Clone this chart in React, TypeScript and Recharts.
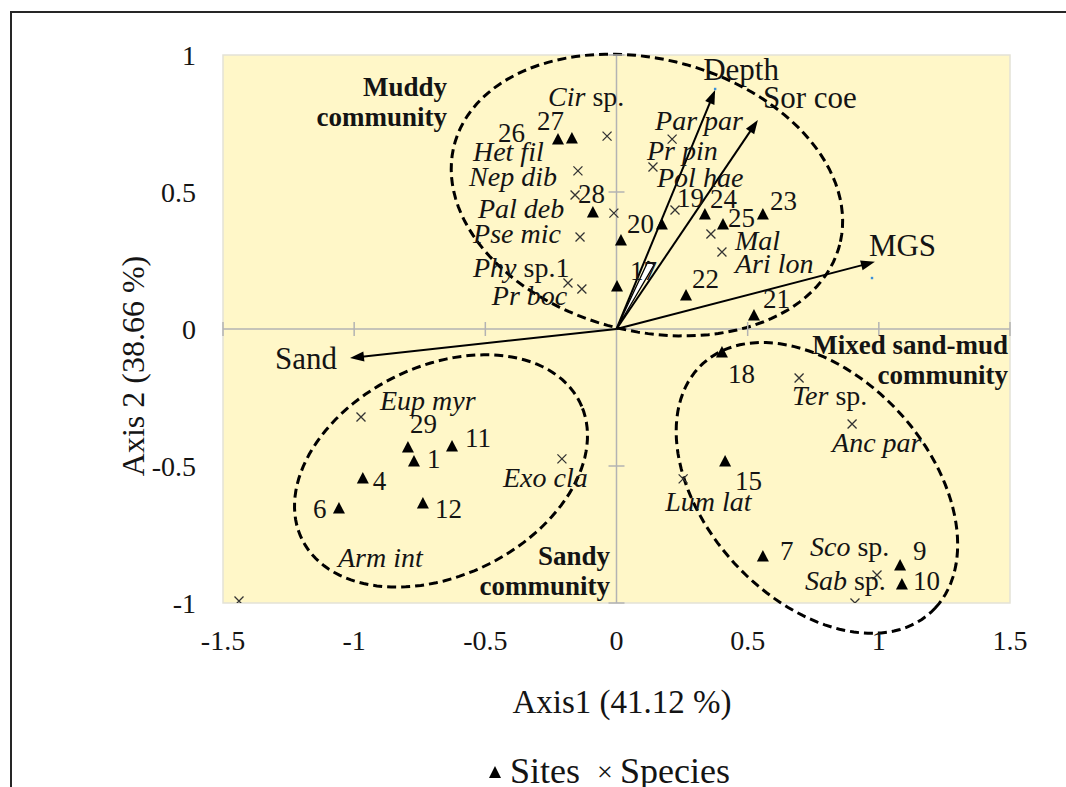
import React from 'react';
import { ScatterChart, Scatter, XAxis, YAxis, ReferenceLine, ReferenceDot, ReferenceArea } from 'recharts';

const FONT = "'Liberation Serif', 'Times New Roman', Times, serif";
const INK = '#141414';

// ---------- data ----------
const xTicks = [-1.5, -1, -0.5, 0, 0.5, 1, 1.5];
const yTicks = [-1, -0.5, 0, 0.5, 1];

const sites = [
  { id: '26', x: -0.223, y: 0.69 },
  { id: '27', x: -0.17, y: 0.693 },
  { id: '28', x: -0.09, y: 0.423 },
  { id: '20', x: 0.017, y: 0.321 },
  { id: '17', x: 0.002, y: 0.153 },
  { id: '19', x: 0.173, y: 0.38 },
  { id: '24', x: 0.337, y: 0.416 },
  { id: '25', x: 0.406, y: 0.38 },
  { id: '23', x: 0.558, y: 0.416 },
  { id: '22', x: 0.265, y: 0.12 },
  { id: '21', x: 0.524, y: 0.047 },
  { id: '18', x: 0.402, y: -0.088 },
  { id: '15', x: 0.414, y: -0.485 },
  { id: '7', x: 0.558, y: -0.832 },
  { id: '9', x: 1.081, y: -0.865 },
  { id: '10', x: 1.088, y: -0.934 },
  { id: '29', x: -0.795, y: -0.434 },
  { id: '1', x: -0.772, y: -0.485 },
  { id: '11', x: -0.627, y: -0.431 },
  { id: '4', x: -0.967, y: -0.547 },
  { id: '6', x: -1.058, y: -0.657 },
  { id: '12', x: -0.738, y: -0.639 },
];

const species = [
  { name: 'Cir sp.', x: -0.036, y: 0.704 },
  { name: 'Het fil', x: -0.147, y: 0.577 },
  { name: 'Nep dib', x: -0.158, y: 0.489 },
  { name: 'Pal deb', x: -0.01, y: 0.423 },
  { name: 'Pse mic', x: -0.139, y: 0.336 },
  { name: 'Phy sp.1', x: -0.185, y: 0.168 },
  { name: 'Pr boc', x: -0.132, y: 0.146 },
  { name: 'Par par', x: 0.212, y: 0.693 },
  { name: 'Pr pin', x: 0.139, y: 0.591 },
  { name: 'Pol hae', x: 0.223, y: 0.434 },
  { name: 'Mal', x: 0.36, y: 0.347 },
  { name: 'Ari lon', x: 0.402, y: 0.281 },
  { name: 'Eup myr', x: -0.974, y: -0.321 },
  { name: 'Exo cla', x: -0.208, y: -0.474 },
  { name: 'Arm int', x: -1.439, y: -0.993 },
  { name: 'Ter sp.', x: 0.696, y: -0.179 },
  { name: 'Anc par', x: 0.898, y: -0.347 },
  { name: 'Lum lat', x: 0.254, y: -0.547 },
  { name: 'Sco sp.', x: 0.993, y: -0.898 },
  { name: 'Sab sp.', x: 0.909, y: -1.0 },
];

const vectors = [
  { name: 'Depth', x: 0.376, y: 0.872 },
  { name: 'Sor coe', x: 0.539, y: 0.763 },
  { name: 'MGS', x: 0.985, y: 0.245 },
  { name: 'Sand', x: -1.016, y: -0.106 },
];
const wedgeTip = { x: 0.132, y: 0.241 };

const envPoints = [
  { name: 'Depth', x: 0.376, y: 0.876 },
  { name: 'MGS', x: 0.974, y: 0.186 },
];

const groups = [
  { name: 'Muddy', cx: 0.116, cy: 0.489, a: 0.757, b: 0.498, angle: -13 },
  { name: 'Sandy', cx: -0.669, cy: -0.518, a: 0.586, b: 0.385, angle: 23.7 },
  { name: 'Mixed', cx: 0.764, cy: -0.58, a: 0.629, b: 0.417, angle: -44.2 },
];

const groupLabels = [
  { lines: ['Muddy', 'community'], x: -0.646, y: 0.85 },
  { lines: ['Mixed sand-mud', 'community'], x: 1.4925, y: -0.091 },
  { lines: ['Sandy', 'community'], x: -0.025, y: -0.861 },
];

// ---------- label placement (pixels, relative to marker) ----------
const siteLabelOffset: Record<string, [number, number]> = {
  '26': [-60, 2], '27': [-35, -9], '28': [-15, -10], '20': [6, -8], '17': [13, -7],
  '19': [15, -18], '24': [5, -7], '25': [5, 2], '23': [7, -5], '22': [6, -8],
  '21': [9, -8], '18': [6, 30], '15': [10, 28], '7': [17, 3], '9': [13, -6],
  '10': [11, 5], '29': [2, -15], '1': [13, 6], '11': [13, 0], '4': [10, 11],
  '6': [-26, 9], '12': [12, 14],
};

const speciesLabelOffset: Record<string, [number, number]> = {
  'Cir sp.': [-59, -30], 'Het fil': [-105, -10], 'Nep dib': [-106, -9],
  'Pal deb': [-136, 5], 'Pse mic': [-107, 6], 'Phy sp.1': [-95, -6],
  'Pr boc': [-90, 16], 'Par par': [-17, -9], 'Pr pin': [-6, -7],
  'Pol hae': [-18, -23], 'Mal': [24, 16], 'Ari lon': [13, 21],
  'Eup myr': [19, -7], 'Exo cla': [-59, 28], 'Arm int': [99, -34],
  'Ter sp.': [-7, 27], 'Anc par': [-20, 28], 'Lum lat': [-18, 32],
  'Sco sp.': [-67, -19], 'Sab sp.': [-50, -13],
};

const vectorLabelOffset: Record<string, [number, number]> = {
  Depth: [-12, -10], 'Sor coe': [5, -12], MGS: [-6, -6], Sand: [-75, 11],
};

// ---------- shapes ----------
const SiteShape = (props: any) => {
  const { cx, cy, payload } = props;
  if (cx == null || cy == null) return null;
  const o = siteLabelOffset[payload.id] || [8, -6];
  return (
    <g>
      <polygon points={`${cx},${cy - 7} ${cx + 6},${cy + 4.5} ${cx - 6},${cy + 4.5}`} fill="#000" />
      <text x={cx + o[0]} y={cy + o[1]} fontSize={27} fontFamily={FONT} fill={INK}>
        {payload.id}
      </text>
    </g>
  );
};

const SpeciesShape = (props: any) => {
  const { cx, cy, payload } = props;
  if (cx == null || cy == null) return null;
  const o = speciesLabelOffset[payload.name] || [8, -6];
  const name: string = payload.name;
  const idx = name.indexOf(' sp');
  const ital = idx >= 0 ? name.slice(0, idx) : name;
  const rest = idx >= 0 ? name.slice(idx) : '';
  const s = 4.5;
  return (
    <g>
      <path
        d={`M${cx - s},${cy - s}L${cx + s},${cy + s}M${cx + s},${cy - s}L${cx - s},${cy + s}`}
        stroke="#333"
        strokeWidth={1.3}
        fill="none"
      />
      <text x={cx + o[0]} y={cy + o[1]} fontSize={28} fontFamily={FONT} fill={INK}>
        <tspan fontStyle="italic">{ital}</tspan>
        {rest ? <tspan>{rest}</tspan> : null}
      </text>
    </g>
  );
};

const EnvShape = (props: any) => {
  const { cx, cy } = props;
  if (cx == null || cy == null) return null;
  return <rect x={cx - 1.2} y={cy - 1.2} width={2.4} height={2.4} fill="#3b8fd9" />;
};

const makeArrowShape = (name: string) => (props: any) => {
  const { x1, y1, x2, y2 } = props;
  const dx = x2 - x1;
  const dy = y2 - y1;
  const len = Math.hypot(dx, dy) || 1;
  const ux = dx / len;
  const uy = dy / len;
  const hl = 14;
  const hw = 5;
  const bx = x2 - ux * hl;
  const by = y2 - uy * hl;
  const pts = `${x2},${y2} ${bx - uy * hw},${by + ux * hw} ${bx + uy * hw},${by - ux * hw}`;
  const o = vectorLabelOffset[name] || [0, 0];
  return (
    <g>
      <line x1={x1} y1={y1} x2={bx + ux * 2} y2={by + uy * 2} stroke="#000" strokeWidth={2} />
      <polygon points={pts} fill="#000" />
      <text x={x2 + o[0]} y={y2 + o[1]} fontSize={31} fontFamily={FONT} fill={INK}>
        {name}
      </text>
    </g>
  );
};

const WedgeShape = (props: any) => {
  const { x1, y1, x2, y2 } = props;
  const dx = x2 - x1;
  const dy = y2 - y1;
  const len = Math.hypot(dx, dy) || 1;
  const ux = dx / len;
  const uy = dy / len;
  const hw = 3.5;
  const pts = `${x1},${y1} ${x2 - uy * hw},${y2 + ux * hw} ${x2 + uy * hw},${y2 - ux * hw}`;
  return <polygon points={pts} fill="#fff" stroke="#000" strokeWidth={1.3} strokeLinejoin="round" />;
};

const UNIT = 0.1;
const makeEllipseShape = (g: { a: number; b: number; angle: number }) => (props: any) => {
  const { x1, y1, x2, y2 } = props;
  const sx = (x2 - x1) / UNIT;
  const sy = (y1 - y2) / UNIT;
  const th = (g.angle * Math.PI) / 180;
  const c = Math.cos(th);
  const s = Math.sin(th);
  const n = 120;
  let d = '';
  for (let i = 0; i <= n; i++) {
    const t = (i / n) * Math.PI * 2;
    const ex = g.a * Math.cos(t) * c - g.b * Math.sin(t) * s;
    const ey = g.a * Math.cos(t) * s + g.b * Math.sin(t) * c;
    const px = x1 + ex * sx;
    const py = y1 - ey * sy;
    d += `${i === 0 ? 'M' : 'L'}${px.toFixed(2)},${py.toFixed(2)}`;
  }
  d += 'Z';
  return <path d={d} fill="none" stroke="#000" strokeWidth={3} strokeDasharray="9 5" />;
};

const makeGroupLabelShape = (lines: string[]) => (props: any) => {
  const { cx, cy } = props;
  if (cx == null || cy == null) return null;
  return (
    <text fontSize={27} fontWeight="bold" fontFamily={FONT} fill={INK} textAnchor="end">
      {lines.map((l, i) => (
        <tspan key={i} x={cx} y={cy + i * 30}>
          {l}
        </tspan>
      ))}
    </text>
  );
};

const XTickMark = (props: any) => {
  const { cx, cy } = props;
  if (cx == null || cy == null) return null;
  return <line x1={cx} y1={cy - 7} x2={cx} y2={cy + 7} stroke="#b3b3b3" strokeWidth={1.5} />;
};
const YTickMark = (props: any) => {
  const { cx, cy } = props;
  if (cx == null || cy == null) return null;
  return <line x1={cx - 8} y1={cy} x2={cx + 8} y2={cy} stroke="#b3b3b3" strokeWidth={1.5} />;
};

const tickStyle = { fontSize: 28, fontFamily: FONT, fill: INK };

export default function App() {
  return (
    <div
      style={{
        position: 'fixed',
        left: 0,
        top: 0,
        width: 1066,
        height: 787,
        overflow: 'hidden',
        background: '#fff',
      }}
    >
      <div
        style={{
          position: 'absolute',
          left: 10,
          top: 11,
          width: 1200,
          height: 900,
          borderLeft: '2px solid #262626',
          borderTop: '2px solid #262626',
        }}
      />
      <div style={{ position: 'absolute', left: 0, top: 0 }}>
        <ScatterChart width={1066} height={787} margin={{ top: 55, right: 56, bottom: 134, left: 143 }}>
          <XAxis
            type="number"
            dataKey="x"
            domain={[-1.5, 1.5]}
            ticks={xTicks}
            interval={0}
            allowDataOverflow
            axisLine={false}
            tickLine={false}
            tickSize={0}
            tickMargin={27}
            height={50}
            tick={tickStyle}
          />
          <YAxis
            type="number"
            dataKey="y"
            domain={[-1, 1]}
            ticks={yTicks}
            interval={0}
            allowDataOverflow
            axisLine={false}
            tickLine={false}
            tickSize={0}
            tickMargin={27}
            width={80}
            tick={tickStyle}
          />
          <ReferenceArea
            x1={-1.5}
            x2={1.5}
            y1={-1}
            y2={1}
            fill="#FFF7C8"
            fillOpacity={1}
            stroke="#e4e2d6"
            strokeWidth={1.5}
            ifOverflow="visible"
          />
          <ReferenceLine x={0} stroke="#b3b3b3" strokeWidth={1.5} />
          <ReferenceLine y={0} stroke="#b3b3b3" strokeWidth={1.5} />
          {xTicks
            .filter((v) => v !== 0)
            .map((v) => (
              <ReferenceDot key={`xt${v}`} x={v} y={0} r={1} shape={XTickMark} ifOverflow="visible" />
            ))}
          {yTicks
            .filter((v) => v !== 0)
            .map((v) => (
              <ReferenceDot key={`yt${v}`} x={0} y={v} r={1} shape={YTickMark} ifOverflow="visible" />
            ))}
          {vectors.map((v) => (
            <ReferenceLine
              key={v.name}
              segment={[
                { x: 0, y: 0 },
                { x: v.x, y: v.y },
              ]}
              ifOverflow="visible"
              shape={makeArrowShape(v.name)}
            />
          ))}
          <ReferenceLine
            segment={[
              { x: 0, y: 0 },
              { x: wedgeTip.x, y: wedgeTip.y },
            ]}
            ifOverflow="visible"
            shape={WedgeShape}
          />
          {groupLabels.map((g) => (
            <ReferenceDot
              key={g.lines[0]}
              x={g.x}
              y={g.y}
              r={1}
              ifOverflow="visible"
              shape={makeGroupLabelShape(g.lines)}
            />
          ))}
          <Scatter data={envPoints} shape={EnvShape} isAnimationActive={false} />
          <Scatter data={species} shape={SpeciesShape} isAnimationActive={false} />
          <Scatter data={sites} shape={SiteShape} isAnimationActive={false} />
          {groups.map((g) => (
            <ReferenceLine
              key={g.name}
              segment={[
                { x: g.cx, y: g.cy },
                { x: g.cx + UNIT, y: g.cy + UNIT },
              ]}
              ifOverflow="visible"
              shape={makeEllipseShape(g)}
            />
          ))}
        </ScatterChart>
      </div>
      <svg
        width={1066}
        height={787}
        style={{ position: 'absolute', left: 0, top: 0, pointerEvents: 'none' }}
      >
        <text x={622} y={713} fontSize={33} fontFamily={FONT} fill={INK} textAnchor="middle">
          Axis1 (41.12 %)
        </text>
        <text
          transform="translate(144,366) rotate(-90)"
          fontSize={32}
          fontFamily={FONT}
          fill={INK}
          textAnchor="middle"
        >
          Axis 2 (38.66 %)
        </text>
        <polygon points="495,766 501,778 489,778" fill="#000" />
        <text x={510} y={783} fontSize={36} fontFamily={FONT} fill={INK}>
          Sites
        </text>
        <text x={605} y={781} fontSize={28} fontFamily={FONT} fill={INK} textAnchor="middle">
          ×
        </text>
        <text x={620} y={783} fontSize={36} fontFamily={FONT} fill={INK}>
          Species
        </text>
      </svg>
    </div>
  );
}
